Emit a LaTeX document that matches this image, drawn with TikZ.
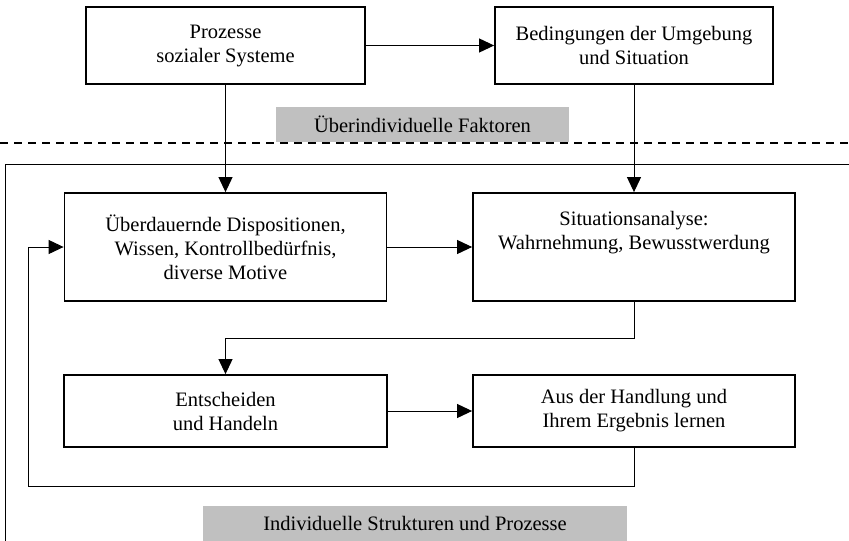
\documentclass[tikz,border=0pt]{standalone}
\usepackage{fontspec}
\setmainfont{Liberation Serif}
\usetikzlibrary{positioning,arrows.meta}
\definecolor{layergray}{RGB}{192,192,192}

\begin{document}
\begin{tikzpicture}[x=1pt, y=-1pt,
    font=\fontsize{20.5}{24}\selectfont,
    block/.style={draw, line width=1.8pt, align=center, inner sep=0pt},
    layer/.style={fill=layergray, inner sep=0pt, minimum height=35pt},
    flow/.style={line width=1pt, -{Triangle[length=15pt, width=14pt]}}]
    \useasboundingbox (0,0) rectangle (849,541);

    \node[layer, minimum width=293pt] (ueber) at (422.5, 124.5) {Überindividuelle Faktoren};
    \node[layer, minimum width=424pt] (indiv) at (415, 523.5) {Individuelle Strukturen und Prozesse};

    \draw[line width=1.4pt, dash pattern=on 8pt off 6pt] (0,143) -- (849,143);
    \draw[line width=1pt] (849,164) -- (5,164) -- (5,541);

    \node[block, minimum width=279pt, minimum height=77pt] (proz) at (225.5, 45.5) {Prozesse\\sozialer Systeme};
    \node[block, minimum width=278pt, minimum height=77pt] (bed) at (634, 45.5) {Bedingungen der Umgebung\\und Situation};
    \node[block, minimum width=322pt, minimum height=108pt] (disp) at (225.5, 247) {Überdauernde Dispositionen,\\Wissen, Kontrollbedürfnis,\\diverse Motive};
    \node[block, minimum width=322pt, minimum height=108pt] (sit) at (634, 247) {Situationsanalyse:\\Wahrnehmung, Bewusstwerdung\\[10pt]};
    \node[block, minimum width=323pt, minimum height=72pt] (ent) at (225.5, 411) {Entscheiden\\und Handeln};
    \node[block, minimum width=322pt, minimum height=72pt] (lern) at (634, 411) {Aus der Handlung und\\Ihrem Ergebnis lernen};
    \coordinate (loop) at (28, 486);

    \draw[flow] (proz) -- (bed);
    \draw[flow] (proz) -- (disp);
    \draw[flow] (bed) -- (sit);
    \draw[flow] (disp) -- (sit);
    \draw[flow] (sit.south) -- ++(0,37) -| (ent.north);
    \draw[flow] (ent) -- (lern);
    \draw[flow] (lern.south) |- (loop) |- (disp.west);
\end{tikzpicture}
\end{document}
